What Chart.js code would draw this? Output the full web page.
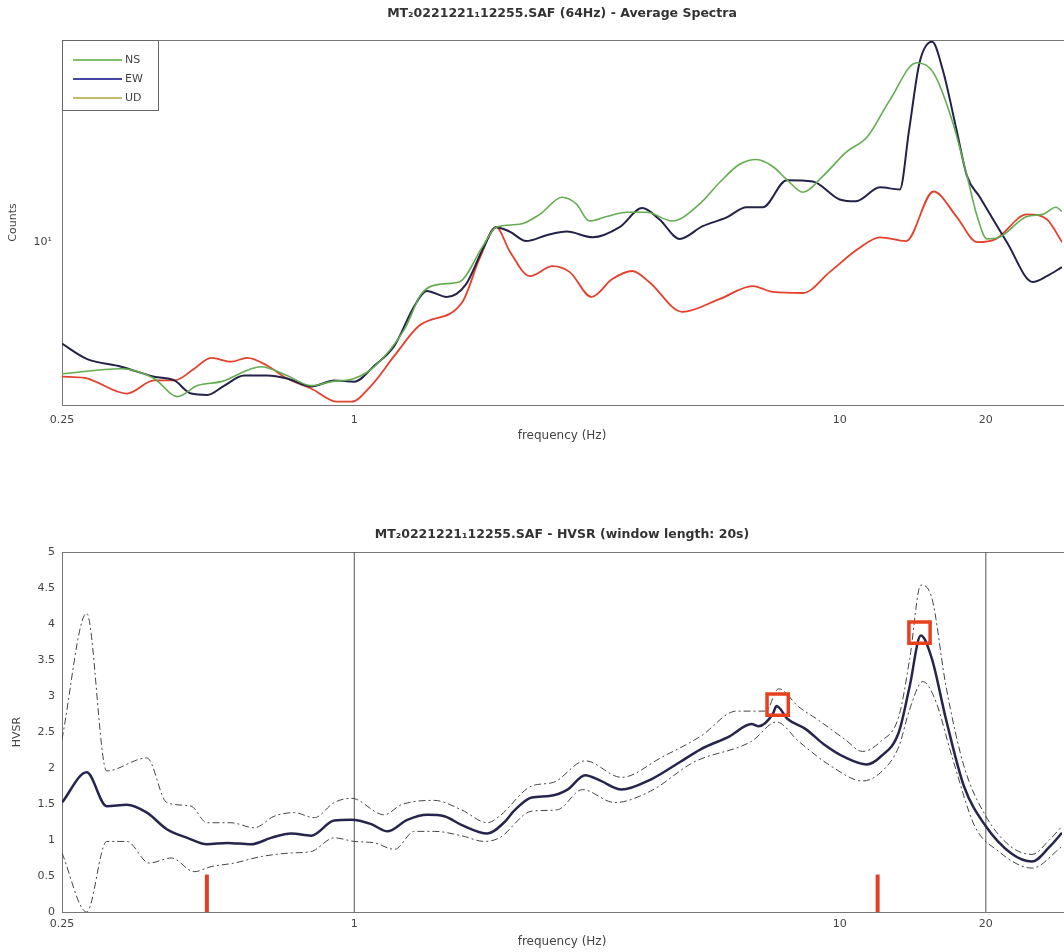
<!DOCTYPE html>
<html>
<head>
<meta charset="utf-8">
<title>Average Spectra / HVSR</title>
<script src="https://cdn.jsdelivr.net/npm/chart.js@4.4.1/dist/chart.umd.min.js"></script>
<style>
  body { margin: 0; background: #fff; }
  #wrap { position: relative; width: 1064px; height: 952px; overflow: hidden; }
  #spectra { position: absolute; left: 0; top: 0; }
  #hvsr { position: absolute; left: 0; top: 520px; }
</style>
</head>
<body>
<div id="wrap">
  <canvas id="spectra" width="1064" height="450"></canvas>
  <canvas id="hvsr" width="1064" height="432"></canvas>
</div>
<script>
// axis ticks
const freqTicks = [0.25, 1, 10, 20];
const countTicks = [10];
const countTickLabels = ['10\u00b9'];

// average spectra (counts), each component read at its own frequencies
const nsFreq = [0.25,0.331,0.387,0.432,0.475,0.532,0.643,0.727,0.815,0.897,1.0,1.10,1.27,1.375,1.51,1.645,1.84,1.96,2.19,2.41,2.68,2.87,3.05,3.31,3.64,4.0,4.52,5.14,5.65,6.22,6.74,7.28,7.78,8.40,9.22,10.3,11.4,12.7,14.4,15.6,17.1,18.3,19.2,20.1,21.3,24.3,26.2,27.9,28.7];
const nsCounts = [3.05,3.19,2.92,2.48,2.74,2.84,3.25,3.0,2.74,2.84,2.92,3.25,4.57,6.27,6.85,6.98,9.65,11.45,11.75,12.85,15.0,14.1,12.1,12.6,13.1,13.1,12.1,14.1,17.1,20.2,21.1,19.8,17.6,15.7,18.1,22.5,25.9,36.2,50.5,46.1,29.4,18.1,12.6,10.3,10.45,12.6,12.85,13.7,13.2];

const ewFreq = [0.25,0.281,0.331,0.387,0.426,0.461,0.498,0.540,0.593,0.662,0.727,0.815,0.91,1.0,1.10,1.21,1.33,1.41,1.55,1.70,1.84,1.96,2.09,2.26,2.49,2.74,3.10,3.52,3.92,4.25,4.68,5.22,5.85,6.43,6.94,7.78,8.80,10.0,10.8,12.1,13.3,13.9,14.6,15.5,16.3,17.4,18.3,19.4,22.1,25.0,26.7,28.7];
const ewCounts = [4.0,3.49,3.25,2.97,2.87,2.55,2.52,2.74,3.0,3.0,2.92,2.72,2.87,2.84,3.28,3.93,5.62,6.44,6.1,6.85,9.4,11.45,11.0,10.1,10.65,11.0,10.45,11.45,13.6,12.3,10.3,11.55,12.5,13.7,13.7,17.5,17.3,14.7,14.45,16.4,16.1,27.6,50.5,61,47.4,27.6,18.1,15.1,10,6.98,7.36,7.98];

const udFreq = [0.25,0.278,0.340,0.387,0.426,0.468,0.507,0.558,0.602,0.662,0.727,0.815,0.922,0.986,1.084,1.21,1.36,1.67,1.81,1.96,2.09,2.30,2.56,2.78,3.08,3.40,3.74,4.05,4.74,5.65,6.62,7.28,8.40,9.53,10.9,12.1,13.7,15.6,17.4,19.2,21.0,24.3,26.7,28.7];
const udCounts = [2.97,2.94,2.55,2.87,2.87,3.19,3.52,3.40,3.52,3.28,2.92,2.67,2.37,2.37,2.74,3.59,4.70,5.83,8.59,11.45,9.22,7.36,8.05,7.63,6.10,7.17,7.71,6.98,5.33,5.98,6.73,6.38,6.32,7.63,9.4,10.45,10.1,15.8,12.6,10,10.3,12.85,12.3,10];

// HVSR mean and +/- std curves
const hvFreq = [0.25,0.281,0.309,0.340,0.374,0.411,0.453,0.497,0.547,0.613,0.674,0.741,0.815,0.909,0.986,1.084,1.17,1.286,1.414,1.533,1.662,1.88,2.04,2.13,2.32,2.52,2.75,2.99,3.22,3.55,4.08,4.68,5.17,5.93,6.58,6.81,7.28,7.41,7.81,8.51,9.27,10.24,11.37,12.15,13.24,13.94,14.69,15.48,16.55,18.02,20.0,22.5,24.9,27.1,28.7];
const hvMean = [1.52,1.94,1.47,1.49,1.38,1.15,1.03,0.94,0.96,0.94,1.03,1.09,1.06,1.27,1.28,1.22,1.12,1.28,1.35,1.33,1.21,1.09,1.25,1.40,1.59,1.61,1.70,1.90,1.82,1.70,1.84,2.08,2.26,2.44,2.61,2.58,2.75,2.86,2.68,2.54,2.33,2.15,2.05,2.16,2.50,3.14,3.84,3.52,2.68,1.75,1.19,0.82,0.70,0.91,1.10];

const hiFreq = [0.25,0.281,0.309,0.374,0.411,0.461,0.497,0.557,0.622,0.684,0.752,0.827,0.909,0.986,1.153,1.25,1.462,1.662,1.88,1.99,2.32,2.57,2.99,3.55,4.30,5.17,6.13,7.04,7.48,8.23,8.97,10.24,11.14,12.15,13.24,13.94,14.69,15.48,16.55,18.02,20.0,22.5,24.9,27.1,28.7];
const hvHigh = [2.40,4.15,1.96,2.14,1.52,1.47,1.24,1.24,1.17,1.33,1.38,1.31,1.52,1.58,1.35,1.49,1.55,1.42,1.24,1.33,1.75,1.80,2.10,1.87,2.15,2.44,2.79,2.79,3.10,2.85,2.68,2.40,2.23,2.37,2.72,3.52,4.54,4.36,3.14,2.03,1.33,0.91,0.80,1.01,1.19];

const loFreq = [0.25,0.281,0.309,0.340,0.378,0.420,0.468,0.507,0.566,0.643,0.741,0.815,0.909,1.0,1.10,1.21,1.33,1.462,1.662,1.854,1.99,2.32,2.62,2.95,3.44,4.08,5.00,6.58,7.41,8.23,9.58,11.14,12.15,13.24,13.94,14.83,15.70,17.10,18.98,20.98,24.9,28.7];
const hvLow = [0.82,0.0,0.98,0.98,0.68,0.75,0.56,0.63,0.68,0.77,0.82,0.84,1.03,0.98,0.96,0.87,1.12,1.12,1.06,0.98,1.03,1.40,1.42,1.70,1.52,1.68,2.08,2.37,2.64,2.37,2.03,1.82,1.94,2.30,2.82,3.20,2.96,2.12,1.19,0.87,0.61,0.91];

// picked peaks, markers and frequency range limits
const peakFreq = [7.45, 14.6];
const peakHvsr = [2.88, 3.88];
const markFreq = [0.497, 11.97];
const markHeight = 0.52;
const rangeFreq = [1, 20];

const FONT = '"DejaVu Sans", Verdana, sans-serif';

function pairs(xs, ys) {
    return xs.map((x, i) => ({ x: x, y: ys[i] }));
}

function freqAxis(labelPad, titlePad, height) {
    return {
        type: 'logarithmic', min: 0.25, max: 28.7, bounds: 'data',
        afterBuildTicks: s => { s.ticks = freqTicks.map(v => ({ value: v })); },
        afterFit: s => { s.height = height; },
        grid: { display: false, drawTicks: false },
        border: { display: false },
        ticks: { autoSkip: false, maxRotation: 0, padding: labelPad, color: '#444',
                 font: { family: FONT, size: 11 }, callback: v => String(v) },
        title: { display: true, text: 'frequency (Hz)', color: '#444',
                 font: { family: FONT, size: 12 }, padding: { top: 0, bottom: titlePad } }
    };
}

const framePlugin = {
    id: 'frame',
    beforeDatasetsDraw(chart) {
        const a = chart.chartArea, ctx = chart.ctx;
        ctx.save();
        ctx.strokeStyle = '#777';
        ctx.lineWidth = 1;
        ctx.strokeRect(a.left + 0.5, a.top + 0.5, a.right - a.left + 4, a.bottom - a.top);
        ctx.restore();
    }
};

const boxLegend = {
    id: 'boxLegend',
    afterDatasetsDraw(chart) {
        const a = chart.chartArea, ctx = chart.ctx;
        const cols = ['#7fbf6a', '#4646a0', '#c4bc6a'];
        const x = a.left, y = a.top;
        ctx.save();
        ctx.fillStyle = '#fff';
        ctx.fillRect(x, y, 96, 70);
        ctx.strokeStyle = '#666';
        ctx.lineWidth = 1;
        ctx.strokeRect(x + 0.5, y + 0.5, 96, 70);
        ctx.font = '11px ' + FONT;
        ctx.textBaseline = 'middle';
        chart.data.datasets.forEach((ds, i) => {
            const ly = y + 20 + i * 19;
            ctx.strokeStyle = cols[i];
            ctx.lineWidth = 2;
            ctx.beginPath();
            ctx.moveTo(x + 11, ly);
            ctx.lineTo(x + 60, ly);
            ctx.stroke();
            ctx.fillStyle = '#444';
            ctx.fillText(ds.label, x + 63, ly);
        });
        ctx.restore();
    }
};

function spectrum(label, f, v, color, width) {
    return { label: label, data: pairs(f, v), borderColor: color, borderWidth: width,
             pointRadius: 0, cubicInterpolationMode: 'monotone', fill: false };
}

new Chart(document.getElementById('spectra'), {
    type: 'line',
    data: {
        datasets: [
            spectrum('NS', nsFreq, nsCounts, '#62ad4f', 1.6),
            spectrum('EW', ewFreq, ewCounts, '#23234a', 2),
            spectrum('UD', udFreq, udCounts, '#e5402c', 1.8)
        ]
    },
    options: {
        responsive: false, animation: false,
        layout: { autoPadding: false, padding: { left: 0, right: 2, top: 0, bottom: 0 } },
        scales: {
            x: freqAxis(9, 7, 45),
            y: {
                type: 'logarithmic', min: 2.3, max: 62, bounds: 'data',
                afterBuildTicks: s => { s.ticks = countTicks.map(v => ({ value: v })); },
                afterFit: s => { s.width = 62; },
                grid: { display: false, drawTicks: false },
                border: { display: false },
                ticks: { padding: 10, color: '#444', font: { family: FONT, size: 11 },
                         callback: (v, i) => countTickLabels[i] },
                title: { display: true, text: 'Counts', color: '#444',
                         font: { family: FONT, size: 11 }, padding: { top: 7, bottom: 0 } }
            }
        },
        plugins: {
            legend: { display: false },
            tooltip: { enabled: false },
            title: { display: true, fullSize: false,
                     text: 'MT\u20820221221\u208112255.SAF (64Hz) - Average Spectra',
                     color: '#333', font: { family: FONT, size: 12.5, weight: 'bold' },
                     padding: { top: 6.5, bottom: 18.5 } }
        }
    },
    plugins: [framePlugin, boxLegend]
});

const hvDatasets = [
    { data: pairs(peakFreq, peakHvsr), showLine: false, pointStyle: 'rect', pointRadius: 15,
      borderColor: '#e8401c', borderWidth: 3.5, backgroundColor: 'rgba(255,255,255,0)' },
    { data: pairs(hvFreq, hvMean), borderColor: '#25254d', borderWidth: 2.5, pointRadius: 0,
      cubicInterpolationMode: 'monotone' },
    { data: pairs(hiFreq, hvHigh), borderColor: '#444', borderWidth: 1, pointRadius: 0,
      borderDash: [7, 3, 2, 3], cubicInterpolationMode: 'monotone' },
    { data: pairs(loFreq, hvLow), borderColor: '#444', borderWidth: 1, pointRadius: 0,
      borderDash: [7, 3, 2, 3], cubicInterpolationMode: 'monotone' }
];
markFreq.forEach(f => {
    hvDatasets.push({ data: [{ x: f, y: 0 }, { x: f, y: markHeight }], borderColor: '#e0402a',
                      borderWidth: 4, pointRadius: 0 });
});
rangeFreq.forEach(f => {
    hvDatasets.push({ data: [{ x: f, y: 0 }, { x: f, y: 5 }], borderColor: '#555',
                      borderWidth: 1, pointRadius: 0 });
});

new Chart(document.getElementById('hvsr'), {
    type: 'line',
    data: { datasets: hvDatasets },
    options: {
        responsive: false, animation: false,
        layout: { autoPadding: false, padding: { left: 0, right: 2, top: 0, bottom: 0 } },
        scales: {
            x: freqAxis(6, 3, 40),
            y: {
                type: 'linear', min: 0, max: 5,
                afterFit: s => { s.width = 62; },
                grid: { display: false, drawTicks: false },
                border: { display: false },
                ticks: { stepSize: 0.5, padding: 7, color: '#444', font: { family: FONT, size: 11 },
                         callback: v => String(+v.toFixed(1)) },
                title: { display: true, text: 'HVSR', color: '#444',
                         font: { family: FONT, size: 11 }, padding: { top: 11, bottom: 0 } }
            }
        },
        plugins: {
            legend: { display: false },
            tooltip: { enabled: false },
            title: { display: true, fullSize: false,
                     text: 'MT\u20820221221\u208112255.SAF - HVSR (window length: 20s)',
                     color: '#333', font: { family: FONT, size: 12.5, weight: 'bold' },
                     padding: { top: 7.5, bottom: 9.5 } }
        }
    },
    plugins: [framePlugin]
});
</script>
</body>
</html>
